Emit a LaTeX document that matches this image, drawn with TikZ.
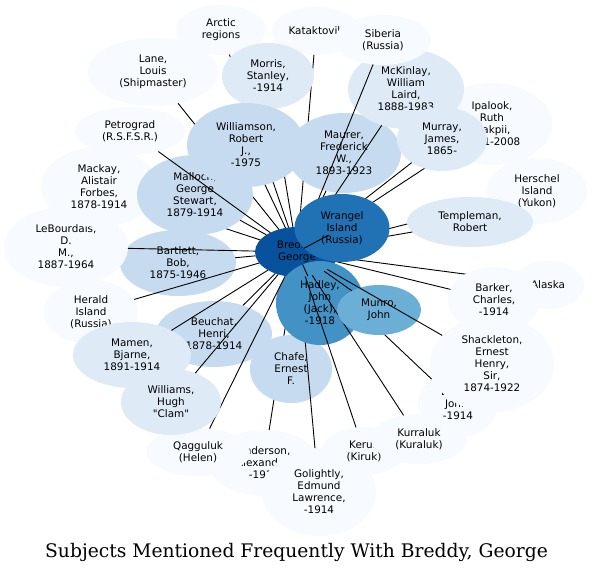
\documentclass[tikz,border=0pt]{standalone}
\usepackage{fontspec}
\usetikzlibrary{shapes.geometric}
\newfontfamily\nodefont{DejaVu Sans}
\newfontfamily\titlefont{DejaVu Serif}
\definecolor{ca}{HTML}{F7FBFF}
\definecolor{cb}{HTML}{DEEBF7}
\definecolor{cc}{HTML}{C6DBEF}
\definecolor{ce}{HTML}{6BAED6}
\definecolor{cf}{HTML}{4292C6}
\definecolor{cg}{HTML}{2171B5}
\definecolor{ch}{HTML}{08519C}
\tikzset{
  leaf/.style={ellipse, draw=none, inner sep=0pt, outer sep=0pt, align=center,
    text=black, font=\nodefont\fontsize{10.4}{12}\selectfont},
  sz/.style 2 args={minimum width=#1pt, minimum height=#2pt},
  link/.style={draw=black, line width=0.9pt}
}
\begin{document}
\begin{tikzpicture}[x=1pt,y=-1pt]
\fill[white] (0,0) rectangle (593,572);
\useasboundingbox (0,0) rectangle (593,572);
\node[leaf, fill=ch, sz={84}{50}] (breddy) at (297,252) {Breddy,\\George};
\node[leaf, fill=ca, sz={72}{48}] (alaska) at (548,285) {Alaska};
\draw[link] (breddy) -- (alaska);
\node[leaf, fill=ca, sz={110}{66}] (anderson) at (264,463) {Anderson,\\Alexander,\\-1914};
\draw[link] (breddy) -- (anderson);
\node[leaf, fill=ca, sz={90}{50}] (arctic) at (221,30) {Arctic\\regions};
\draw[link] (breddy) -- (arctic);
\node[leaf, fill=ca, sz={92}{66}] (barker) at (494,300) {Barker,\\Charles,\\-1914};
\draw[link] (breddy) -- (barker);
\node[leaf, fill=cc, sz={116}{66}] (bartlett) at (178,263) {Bartlett,\\Bob,\\1875-1946};
\draw[link] (breddy) -- (bartlett);
\node[leaf, fill=cc, sz={116}{66}] (beuchat) at (214,334) {Beuchat,\\Henri,\\1878-1914};
\draw[link] (breddy) -- (beuchat);
\node[leaf, fill=ca, sz={80}{66}] (brady) at (458,404) {Brady,\\John,\\-1914};
\draw[link] (breddy) -- (brady);
\node[leaf, fill=cc, sz={82}{68}] (chafe) at (291,369) {Chafe,\\Ernest\\F.};
\draw[link] (breddy) -- (chafe);
\node[leaf, fill=ca, sz={114}{88}] (golightly) at (319,492) {Golightly,\\Edmund\\Lawrence,\\-1914};
\draw[link] (breddy) -- (golightly);
\node[leaf, fill=cf, sz={88}{84}] (hadley) at (320,303) {Hadley,\\John\\(Jack),\\-1918};
\draw[link] (breddy) -- (hadley);
\node[leaf, fill=ca, sz={94}{64}] (herald) at (91,312) {Herald\\Island\\(Russia)};
\draw[link] (breddy) -- (herald);
\node[leaf, fill=ca, sz={100}{66}] (herschel) at (537,191) {Herschel\\Island\\(Yukon)};
\draw[link] (breddy) -- (herschel);
\node[leaf, fill=ca, sz={120}{82}] (ipalook) at (492,124) {Ipalook,\\Ruth\\Makpii,\\1911-2008};
\draw[link] (breddy) -- (ipalook);
\node[leaf, fill=ca, sz={88}{48}] (kataktovik) at (316,31) {Kataktovik};
\draw[link] (breddy) -- (kataktovik);
\node[leaf, fill=ca, sz={84}{48}] (keruk) at (364,451) {Keruk\\(Kiruk)};
\draw[link] (breddy) -- (keruk);
\node[leaf, fill=ca, sz={96}{50}] (kurraluk) at (419,439) {Kurraluk\\(Kuraluk)};
\draw[link] (breddy) -- (kurraluk);
\node[leaf, fill=ca, sz={130}{68}] (lane) at (153,72) {Lane,\\Louis\\(Shipmaster)};
\draw[link] (breddy) -- (lane);
\node[leaf, fill=ca, sz={124}{80}] (lebourdais) at (66,247) {LeBourdais,\\D.\\M.,\\1887-1964};
\draw[link] (breddy) -- (lebourdais);
\node[leaf, fill=ca, sz={116}{80}] (mackay) at (99,187) {Mackay,\\Alistair\\Forbes,\\1878-1914};
\draw[link] (breddy) -- (mackay);
\node[leaf, fill=cc, sz={116}{80}] (malloch) at (195,195) {Malloch,\\George\\Stewart,\\1879-1914};
\draw[link] (breddy) -- (malloch);
\node[leaf, fill=cb, sz={118}{66}] (mamen) at (132,355) {Mamen,\\Bjarne,\\1891-1914};
\draw[link] (breddy) -- (mamen);
\node[leaf, fill=cc, sz={114}{80}] (maurer) at (344,153) {Maurer,\\Frederick\\W.,\\1893-1923};
\draw[link] (breddy) -- (maurer);
\node[leaf, fill=cb, sz={116}{80}] (mckinlay) at (406,89) {McKinlay,\\William\\Laird,\\1888-1983};
\draw[link] (breddy) -- (mckinlay);
\node[leaf, fill=cb, sz={92}{66}] (morris) at (268,76) {Morris,\\Stanley,\\-1914};
\draw[link] (breddy) -- (morris);
\node[leaf, fill=ce, sz={84}{50}] (munro) at (379,310) {Munro,\\John};
\draw[link] (breddy) -- (munro);
\node[leaf, fill=cb, sz={90}{64}] (murray) at (442,139) {Murray,\\James,\\1865-};
\draw[link] (breddy) -- (murray);
\node[leaf, fill=ca, sz={110}{48}] (petrograd) at (130,131) {Petrograd\\(R.S.F.S.R.)};
\draw[link] (breddy) -- (petrograd);
\node[leaf, fill=ca, sz={104}{48}] (qagguluk) at (198,452) {Qagguluk\\(Helen)};
\draw[link] (breddy) -- (qagguluk);
\node[leaf, fill=ca, sz={124}{96}] (shackleton) at (492,364) {Shackleton,\\Ernest\\Henry,\\Sir,\\1874-1922};
\draw[link] (breddy) -- (shackleton);
\node[leaf, fill=ca, sz={96}{50}] (siberia) at (383,40) {Siberia\\(Russia)};
\draw[link] (breddy) -- (siberia);
\node[leaf, fill=cb, sz={126}{50}] (templeman) at (470,222) {Templeman,\\Robert};
\draw[link] (breddy) -- (templeman);
\node[leaf, fill=cb, sz={100}{66}] (williams) at (171,402) {Williams,\\Hugh\\"Clam"};
\draw[link] (breddy) -- (williams);
\node[leaf, fill=cc, sz={118}{84}] (williamson) at (246,145) {Williamson,\\Robert\\J.,\\-1975};
\draw[link] (breddy) -- (williamson);
\node[leaf, fill=cg, sz={95}{68}] (wrangel) at (342,228) {Wrangel\\Island\\(Russia)};
\draw[link] (breddy) -- (wrangel);
\node[anchor=base, inner sep=0pt, font=\titlefont\fontsize{18.7}{22}\selectfont] (title) at (296.5,557) {Subjects Mentioned Frequently With Breddy, George};
\end{tikzpicture}
\end{document}
